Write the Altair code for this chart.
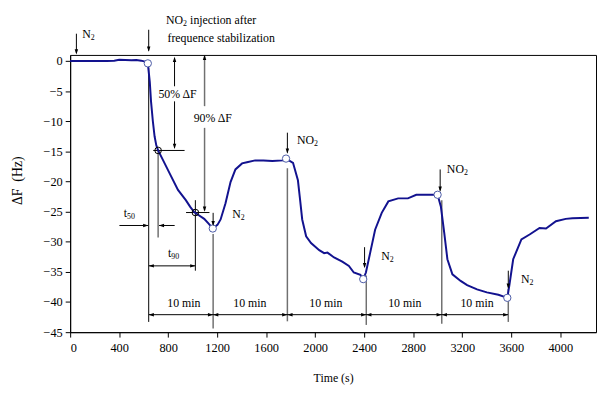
import altair as alt
import pandas as pd

# ---- main signal (time in s, frequency shift in Hz) ----
time_s = [0, 100, 200, 300, 360, 400, 450, 500, 540, 580, 610, 634, 650, 660, 675, 689, 703, 718,
          759, 813, 880, 944, 980, 1014, 1050, 1094, 1130, 1164, 1202, 1228, 1268, 1309, 1349,
          1403, 1443, 1510, 1577, 1650, 1738, 1762, 1819, 1859, 1877, 1894, 1926, 1966, 2033,
          2073, 2100, 2154, 2221, 2275, 2315, 2369, 2392, 2414, 2449, 2489, 2543, 2597, 2677,
          2757, 2825, 2946, 2999, 3026, 3053, 3079, 3120, 3187, 3240, 3321, 3401, 3495, 3568,
          3584, 3616, 3683, 3750, 3831, 3884, 3965, 4045, 4099, 4233]
delta_f = [0, 0, 0, 0, 0.05, 0.2, 0.15, 0.1, 0.15, 0.05, -0.1, -0.4, -3.5, -6.7, -10, -12.5, -14, -14.85,
           -16.5, -18.7, -21.4, -23.1, -24.2, -25.1, -25.6, -26.2, -27.0, -27.8, -27.2, -26.3, -23.6, -20.1, -18.0,
           -17.0, -16.8, -16.5, -16.5, -16.6, -16.5, -16.2, -16.9, -19.8, -23.1, -26.3, -29.1, -30.2, -31.4,
           -31.9, -31.8, -32.6, -33.3, -34.0, -35.1, -35.5, -36.2, -35.1, -31.8, -28.0, -25.2, -23.3, -22.8,
           -22.8, -22.2, -22.2, -22.2, -24.2, -28.5, -32.9, -35.4, -36.5, -37.2, -37.9, -38.4, -38.8, -39.3,
           -37.3, -32.9, -29.6, -28.8, -27.7, -27.8, -26.6, -26.2, -26.1, -26.0]

# open circles at gas switching points
switch_t = [634, 1164, 1762, 2392, 2999, 3568]
switch_f = [-0.4, -27.8, -16.2, -36.2, -22.2, -39.3]

# crossed markers (50 % and 90 % response)
resp_t = [718, 1022]
resp_f = [-14.85, -25.15]

# dimension boundaries (10 min intervals)
bounds_t = [641, 1167, 1773, 2417, 3033, 3576]
dim_f = -42.1
interval_labels = ["10 min"] * 5
interval_t = [928, 1467, 2087, 2731, 3321]
interval_f = -40.1

# black annotation segments (t1, f1, t2, f2)
black_segs = [
    (51, 4.52, 51, 1.3), (641, 5.18, 641, 1.7), (641, -1.1, 641, -43.3),
    (852, 0.5, 852, -4.2), (852, -6.7, 852, -14.4), (678, -14.85, 934, -14.85),
    (402, -27.3, 636, -27.3), (853, -27.3, 726, -27.3), (643, -34.0, 1020, -34.0),
    (946, -25.15, 1137, -25.15), (1022, -23.1, 1022, -34.8),
    (1167, -25.2, 1167, -27.2), (1773, -11.9, 1773, -15.2), (2403, -30.9, 2403, -34.2),
    (3020, -18.0, 3020, -21.5), (3576, -34.8, 3576, -37.6), (643, dim_f, 3574, dim_f),
]
# grey annotation segments
grey_segs = [
    (1097, 0.8, 1097, -7.5), (1097, -11.1, 1097, -24.8), (718, -14.85, 718, -29.3),
    (1167, -28.7, 1167, -44.4), (1773, -17.8, 1773, -43.2), (2417, -35.6, 2417, -43.8),
    (3033, -23.1, 3033, -43.6), (3576, -37.8, 3576, -43.3),
]
heads_down = [(51, 1.08), (641, 1.52), (852, -14.6), (1097, -25.0), (1167, -27.4),
              (1773, -15.4), (2403, -34.4), (3020, -21.7), (3576, -37.8)]
heads_up = [(852, 0.7), (1097, 1.0)]
heads_right = [(638, -27.3), (1022, -34.0)] + [(b, dim_f) for b in bounds_t[1:]]
heads_left = [(724, -27.3), (641, -34.0)] + [(b, dim_f) for b in bounds_t[:-1]]

# texts with subscripts: (base, subscript, anchor t, f)
sub_texts = [
    ("N", "2", 169, 4.48), ("NO", "2", 922, 6.77), ("t", "50", 464, -25.25),
    ("t", "90", 826, -31.8), ("N", "2", 1392, -25.4), ("NO", "2", 1990, -13.2),
    ("N", "2", 2608, -32.4), ("NO", "2", 3214, -18.0), ("N", "2", 3750, -36.2),
]
left_texts = [("injection after", 979, 6.77), ("frequence stabilization", 794, 3.82)]
center_texts = [("50% \u0394F", 876, -5.48), ("90% \u0394F", 1164, -9.41)]
center_texts += [(l, t, interval_f) for l, t in zip(interval_labels, interval_t)]

FONT = "Liberation Serif"
x_ticks = list(range(0, 4001, 400))
y_ticks = list(range(0, -46, -5))

X = alt.X("t:Q", scale=alt.Scale(domain=[0, 4292], nice=False, zero=False),
          axis=alt.Axis(values=x_ticks, format="d", title="Time (s)", titleY=46,
                        titleBaseline="middle", titleFontSize=12,
                        labelPadding=5, tickSize=5))
Y = alt.Y("f:Q", scale=alt.Scale(domain=[-45, 1], nice=False, zero=False),
          axis=alt.Axis(values=y_ticks, format="d", title="\u0394F\u00a0 (Hz)", titleX=-53, titleY=127,
                        titleAngle=270, titleAlign="center", titleBaseline="middle",
                        titleFontSize=14, labelPadding=3, tickSize=5))

curve_df = pd.DataFrame({"t": time_s, "f": delta_f})
curve = alt.Chart(curve_df).mark_line(color="#12128f", strokeWidth=2).encode(x=X, y=Y)


def seg_df(segs):
    return pd.DataFrame(segs, columns=["t", "f", "t2", "f2"])


black = alt.Chart(seg_df(black_segs)).mark_rule(color="black", strokeWidth=1).encode(
    x=X, y=Y, x2="t2:Q", y2="f2:Q")
grey = alt.Chart(seg_df(grey_segs)).mark_rule(color="#707070", strokeWidth=1.5).encode(
    x=X, y=Y, x2="t2:Q", y2="f2:Q")


def heads(pts, path):
    df = pd.DataFrame(pts, columns=["t", "f"])
    return alt.Chart(df).mark_point(shape=path, filled=True, color="black", size=110,
                                    opacity=1, strokeWidth=0).encode(x=X, y=Y)


h_down = heads(heads_down, "M0,0L-0.33,-1L0.33,-1Z")
h_up = heads(heads_up, "M0,0L-0.33,1L0.33,1Z")
h_right = heads(heads_right, "M0,0L-1,-0.33L-1,0.33Z")
h_left = heads(heads_left, "M0,0L1,-0.33L1,0.33Z")

circles = alt.Chart(pd.DataFrame({"t": switch_t, "f": switch_f})).mark_point(
    shape="circle", size=55, filled=True, fill="white", stroke="#4b5aa6", strokeWidth=1,
    opacity=1).encode(x=X, y=Y)
resp = alt.Chart(pd.DataFrame({"t": resp_t, "f": resp_f})).mark_point(
    shape="circle", size=45, filled=False, stroke="black", strokeWidth=1, opacity=1).encode(x=X, y=Y)

sub_df = pd.DataFrame(sub_texts, columns=["base", "sub", "t", "f"])
base_txt = alt.Chart(sub_df).mark_text(font=FONT, fontSize=12, align="right", baseline="middle",
                                       color="black").encode(x=X, y=Y, text="base:N")
sub_txt = alt.Chart(sub_df).mark_text(font=FONT, fontSize=8, align="left", baseline="middle",
                                      dy=4, color="black").encode(x=X, y=Y, text="sub:N")
left_txt = alt.Chart(pd.DataFrame(left_texts, columns=["label", "t", "f"])).mark_text(
    font=FONT, fontSize=12, align="left", baseline="middle", color="black").encode(
    x=X, y=Y, text="label:N")
center_txt = alt.Chart(pd.DataFrame(center_texts, columns=["label", "t", "f"])).mark_text(
    font=FONT, fontSize=12, align="center", baseline="middle", color="black").encode(
    x=X, y=Y, text="label:N")

chart = alt.layer(
    grey, black, curve, circles, resp, h_down, h_up, h_right, h_left,
    base_txt, sub_txt, left_txt, center_txt
).properties(
    width=533, height=281,
    padding={"left": 63, "top": 45, "right": 1, "bottom": 52},
    autosize=alt.AutoSizeParams(type="none"),
).configure_view(stroke="black", strokeWidth=1).configure_axis(
    grid=False, domainColor="black", tickColor="black", labelColor="black",
    titleColor="black", labelFont=FONT, titleFont=FONT, labelFontSize=12.5,
    titleFontWeight="normal", domainWidth=1, tickWidth=1,
)

chart.save("out.html", embed_options={"renderer": "svg", "actions": False})
